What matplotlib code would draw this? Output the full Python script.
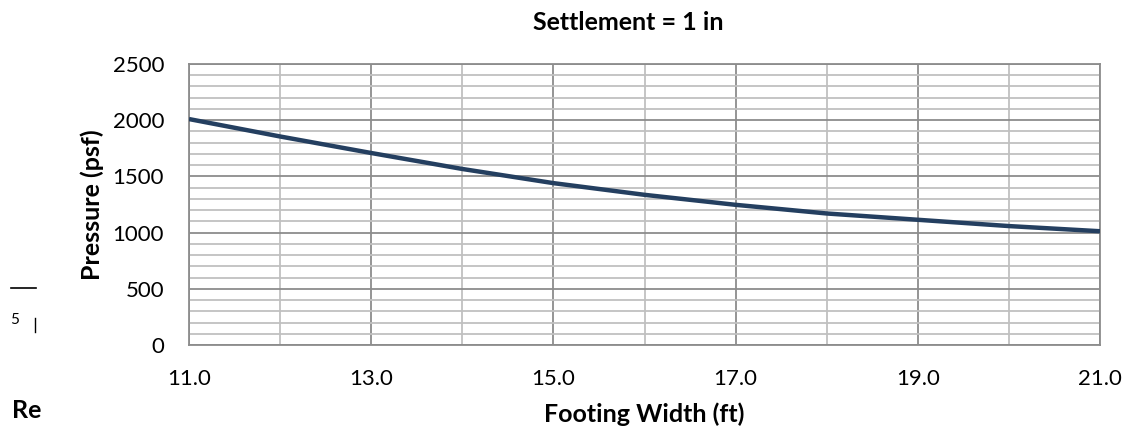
import matplotlib
matplotlib.use("Agg")
import matplotlib.pyplot as plt
from matplotlib.ticker import FormatStrFormatter

plt.rcParams['font.family'] = ['Lato', 'DejaVu Sans']

# данные
width_ft = [11, 12, 13, 14, 15, 16, 17, 18, 19, 20, 21]
pressure_psf = [2010, 1855, 1708, 1566, 1440, 1336, 1247, 1170, 1114, 1058, 1012]

fig = plt.figure(figsize=(11.25, 4.32), dpi=100)
ax = fig.add_axes([0.168, 0.2014, 0.8098, 0.6505])

ax.plot(width_ft, pressure_psf, color='#243f60', linewidth=3.2,
        solid_capstyle='butt', zorder=3)

ax.set_xlim(11, 21)
ax.set_ylim(0, 2500)
ax.set_xticks(range(11, 22, 2))
ax.set_xticks(range(12, 21, 2), minor=True)
ax.set_yticks(range(0, 2501, 500))
ax.set_yticks([v for v in range(0, 2501, 100) if v % 500], minor=True)
ax.xaxis.set_major_formatter(FormatStrFormatter('%.1f'))

# сетка
ax.grid(which='major', color='#8c8c8c', linewidth=1.3)
ax.grid(which='minor', color='#c0c0c0', linewidth=1.3)
ax.set_axisbelow(True)
for s in ax.spines.values():
    s.set_color('#8c8c8c')
    s.set_linewidth(1.3)

ax.tick_params(which='both', length=0, labelsize=16, colors='#000000')
ax.tick_params(axis='x', pad=17)
ax.tick_params(axis='y', pad=18)

ax.set_xlabel('Footing Width (ft)', fontsize=18, fontweight='bold', labelpad=10)
ax.set_ylabel('Pressure (psf)', fontsize=18, fontweight='bold', labelpad=6)
fig.text(628 / 1125, 1 - 22 / 432, 'Settlement = 1 in', fontsize=18,
         fontweight='bold', ha='center', va='center')

# обрезки документа слева
fig.text(12 / 1125, 1 - 410 / 432, 'Re', fontsize=18, fontweight='bold',
         ha='left', va='center')
fig.text(10 / 1125, 1 - 320 / 432, '5', fontsize=11, ha='left', va='center')
fig.lines.append(plt.Line2D([11 / 1125, 36 / 1125], [1 - 288 / 432, 1 - 288 / 432],
                            transform=fig.transFigure, color='black', linewidth=1.2))
fig.lines.append(plt.Line2D([35 / 1125, 35 / 1125], [1 - 318 / 432, 1 - 332 / 432],
                            transform=fig.transFigure, color='black', linewidth=1.0))

fig.savefig('out.png', dpi=100)
